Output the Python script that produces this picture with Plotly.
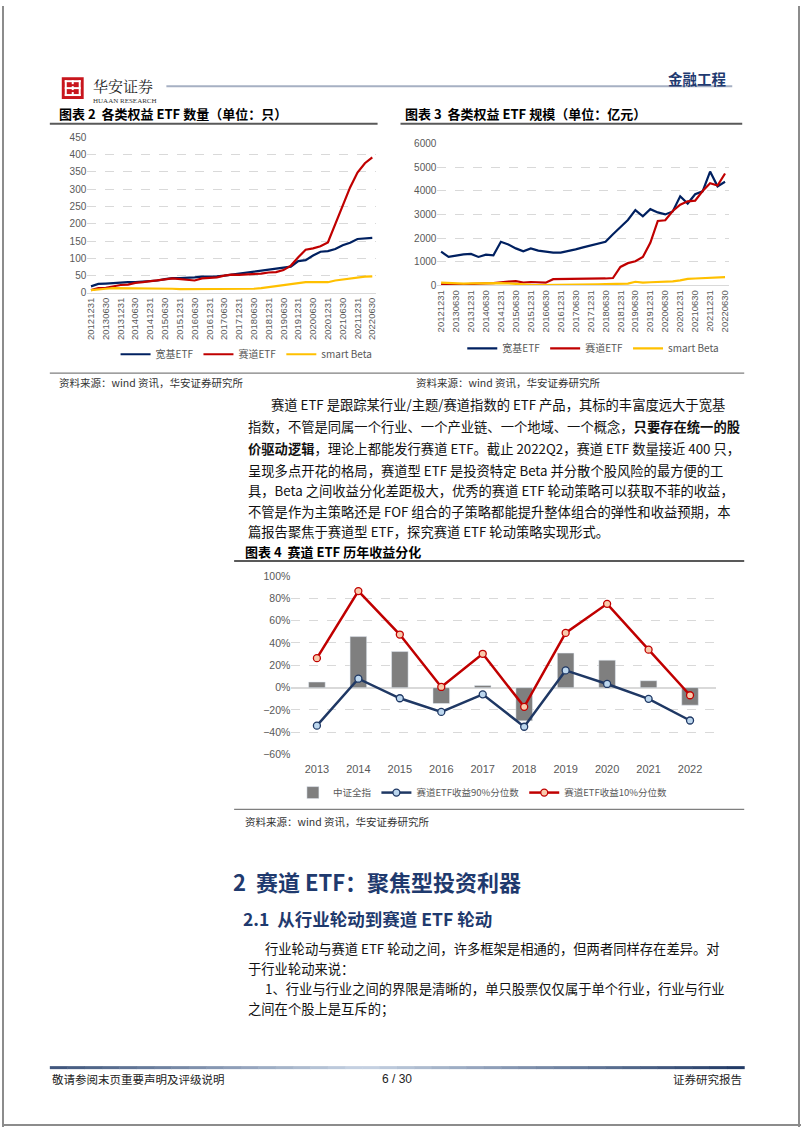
import plotly.graph_objects as go

W, H = 802, 1133

# ---- data ----
dates = ["20121231", "20130331", "20130630", "20130930", "20131231", "20140331", "20140630", "20140930",
         "20141231", "20150331", "20150630", "20150930", "20151231", "20160331", "20160630", "20160930",
         "20161231", "20170331", "20170630", "20170930", "20171231", "20180331", "20180630", "20180930",
         "20181231", "20190331", "20190630", "20190930", "20191231", "20200331", "20200630", "20200930",
         "20201231", "20210331", "20210630", "20210930", "20211231", "20220331", "20220630"]

# 图表2 数量（只）
kuanji_num = [19, 26, 27, 29, 31, 31, 31, 32, 34, 36, 40, 43, 43, 43, 45, 47, 47, 48, 50, 53,
              55, 58, 63, 66, 69, 72, 74, 76, 92, 95, 108, 119, 121, 127, 138, 145, 156, 158, 159]
saidao_num = [8, 14, 15, 20, 23, 24, 29, 31, 33, 36, 39, 42, 40, 39, 36, 42, 43, 45, 50, 53,
              52, 53, 53, 56, 59, 60, 66, 79, 103, 125, 129, 135, 146, 200, 250, 305, 348, 375, 392]
smart_num = [8, 11, 12, 14, 14, 14, 14, 14, 14, 14, 13, 12, 11, 11, 11, 11, 11, 11, 11, 11,
             11, 11, 12, 14, 17, 21, 24, 27, 30, 31, 31, 31, 31, 36, 39, 43, 45, 47, 48]

# 图表3 规模（亿元）
kuanji_aum = [1427, 1203, 1259, 1315, 1329, 1203, 1300, 1273, 1846, 1734, 1566, 1440, 1566, 1469, 1427,
              1385, 1385, 1440, 1524, 1608, 1692, 1748, 1846, 2168, 2461, 2769, 3189, 2923, 3231, 3091,
              3007, 3133, 3776, 3469, 3860, 3986, 4825, 4196, 4392]
saidao_aum = [50, 20, 30, 50, 70, 80, 80, 90, 140, 160, 180, 120, 140, 120, 110, 260, 260, 260, 270, 260,
              270, 280, 290, 310, 780, 940, 1020, 1200, 1800, 2730, 2760, 3150, 3420, 3560, 3590, 4000,
              4330, 4230, 4740]
smart_aum = [110, 90, 70, 70, 80, 90, 100, 90, 90, 80, 50, 30, 20, 10, 10, 10, 20, 20, 20, 30,
             40, 40, 50, 60, 60, 70, 150, 110, 130, 140, 160, 170, 210, 270, 290, 300, 320, 330, 350]

# 图表4 历年收益（%）
years = ["2013", "2014", "2015", "2016", "2017", "2018", "2019", "2020", "2021", "2022"]
csi_all = [5.0, 45.7, 32.3, -14.2, 2.0, -29.7, 30.9, 24.6, 6.2, -15.7]
q90 = [-34.0, 8.0, -9.5, -21.7, -6.0, -35.0, 15.4, 3.3, -10.0, -29.4]
q10 = [26.4, 86.4, 47.5, 0.6, 30.3, -17.2, 49.0, 75.0, 34.0, -6.8]

NAVY, RED, GOLD = "#002060", "#C00000", "#FFC000"
GRID, TICK = "#D9D9D9", "#595959"
CJK = "Noto Sans CJK SC"


def px(x):
    return x / W


def py(y):
    return 1 - y / H


fig = go.Figure()

# --- 图表2 ---
for name, ys, col in [("宽基ETF", kuanji_num, NAVY), ("赛道ETF", saidao_num, RED), ("smart Beta", smart_num, GOLD)]:
    fig.add_trace(go.Scatter(x=dates, y=ys, mode="lines", name=name, line=dict(color=col, width=2.2),
                             xaxis="x", yaxis="y", legend="legend"))

# --- 图表3 ---
for name, ys, col in [("宽基ETF", kuanji_aum, NAVY), ("赛道ETF", saidao_aum, RED), ("smart Beta", smart_aum, GOLD)]:
    fig.add_trace(go.Scatter(x=dates, y=ys, mode="lines", name=name, line=dict(color=col, width=2.2),
                             xaxis="x2", yaxis="y2", legend="legend2"))

# --- 图表4 ---
fig.add_trace(go.Bar(x=years, y=csi_all, name="中证全指", marker=dict(color="#7F7F7F"),
                     xaxis="x3", yaxis="y3", legend="legend3"))
fig.add_trace(go.Scatter(x=years, y=q90, mode="lines+markers", name="赛道ETF收益90%分位数",
                         line=dict(color="#1F3864", width=2.5),
                         marker=dict(size=7, color="#BDD7EE", line=dict(color="#1F3864", width=1.3)),
                         xaxis="x3", yaxis="y3", legend="legend3"))
fig.add_trace(go.Scatter(x=years, y=q10, mode="lines+markers", name="赛道ETF收益10%分位数",
                         line=dict(color=RED, width=2.5),
                         marker=dict(size=7, color="#F8CBAD", line=dict(color=RED, width=1.3)),
                         xaxis="x3", yaxis="y3", legend="legend3"))

tickfont = dict(family="Liberation Sans", size=10, color=TICK)
ydef = dict(showgrid=True, gridcolor=GRID, griddash="dash", gridwidth=1, zeroline=False,
            tickfont=tickfont, ticks="", showline=False, fixedrange=True)
xdate = dict(type="category", tickmode="array", tickvals=dates[::2], tickangle=-90,
             tickfont=dict(family="Liberation Sans", size=9.5, color=TICK), showgrid=False,
             showline=True, linecolor=GRID, linewidth=1, ticks="", range=[-0.5, 38.5])

fig.update_layout(
    width=W, height=H, margin=dict(l=0, r=0, t=0, b=0),
    paper_bgcolor="white", plot_bgcolor="white",
    font=dict(family=CJK, color="#000"),
    bargap=0.6,
    xaxis=dict(xdate, domain=[px(85.6), px(375.4)], anchor="y"),
    yaxis=dict(ydef, domain=[py(290), py(132.7)], range=[0, 450], dtick=50, anchor="x"),
    xaxis2=dict(xdate, domain=[px(437), px(729.5)], anchor="y2"),
    yaxis2=dict(ydef, domain=[py(282.3), py(139.3)], range=[0, 6000], dtick=1000, anchor="x2"),
    xaxis3=dict(type="category", domain=[px(290.4), px(716.3)], anchor="y3", showgrid=False,
                showline=False, ticks="", ticklabelstandoff=6,
                tickfont=dict(family="Liberation Sans", size=11, color=TICK)),
    yaxis3=dict(ydef, domain=[py(756.7), py(576)], range=[-60, 100], dtick=20, ticksuffix="%",
                anchor="x3", zeroline=True, zerolinecolor=GRID, zerolinewidth=1.5,
                tickfont=dict(family="Liberation Sans", size=10.5, color=TICK)),
    legend=dict(orientation="h", x=px(114), y=py(352), xanchor="left", yanchor="middle",
                font=dict(family=CJK, size=10, color=TICK), itemwidth=30, bgcolor="rgba(0,0,0,0)"),
    legend2=dict(orientation="h", x=px(462), y=py(346), xanchor="left", yanchor="middle",
                 font=dict(family=CJK, size=10, color=TICK), itemwidth=30, bgcolor="rgba(0,0,0,0)"),
    legend3=dict(orientation="h", x=px(292), y=py(795), xanchor="left", yanchor="middle",
                 font=dict(family=CJK, size=9.5, color=TICK), itemwidth=30, bgcolor="rgba(0,0,0,0)"),
)

shapes = []


def hline(x0, x1, y, color, width):
    shapes.append(dict(type="line", xref="paper", yref="paper", x0=px(x0), x1=px(x1), y0=py(y), y1=py(y),
                       line=dict(color=color, width=width)))


def box(x0, y0, x1, y1, fill):
    shapes.append(dict(type="rect", xref="paper", yref="paper", x0=px(x0), x1=px(x1), y0=py(y1), y1=py(y0),
                       fillcolor=fill, line=dict(width=0)))


# page border
shapes.append(dict(type="line", xref="paper", yref="paper", x0=px(1), x1=px(1), y0=0, y1=1,
                   line=dict(color="#8C8C8C", width=2)))
shapes.append(dict(type="line", xref="paper", yref="paper", x0=px(800), x1=px(800), y0=0, y1=1,
                   line=dict(color="#8C8C8C", width=2)))
hline(0, 802, 1131, "#8C8C8C", 2)

# header logo
box(60, 72, 82, 94, "#C8161D")
for yy in (76, 83, 90):
    box(63, yy - 1, 79, yy + 1, "white")
for xx in (64, 71, 78):
    box(xx - 1, 75, xx + 1, 91, "white")
box(66, 79, 76, 81, "#C8161D")
box(66, 85, 76, 87, "#C8161D")
hline(165, 733, 81, "#A6B0C3", 2)

# figure title rules and source rules
hline(48, 377, 119, "#595959", 2)
hline(400, 743, 119, "#595959", 2)
hline(48, 745, 371, "#7F7F7F", 1.2)
hline(233, 745, 561, "#595959", 2)
hline(233, 745, 812, "#7F7F7F", 1.2)

# footer gradient rule
n = 40
for i in range(n):
    t = min(abs((i + 0.5) / n - 0.45) / 0.55, 1.0)
    c0, c1 = (200, 212, 228), (31, 56, 100)
    col = "rgb(%d,%d,%d)" % tuple(int(a + (b - a) * t) for a, b in zip(c0, c1))
    x0 = 48 + (745 - 48) * i / n
    x1 = 48 + (745 - 48) * (i + 1) / n
    hline(x0, x1 + 0.5, 1073, col, 3)

fig.update_layout(shapes=shapes)

ann = []


def text(x, y, s, size, color="#000", anchor="left", family=CJK):
    ann.append(dict(x=px(x), y=py(y), xref="paper", yref="paper", text=s, showarrow=False,
                    xanchor=anchor, yanchor="middle", font=dict(family=family, size=size, color=color)))


text(89, 80, "华安证券", 15, "#222", family="Noto Serif CJK SC, Noto Sans CJK SC")
text(89, 96, "HUAAN RESEARCH", 7, "#333", family="Liberation Serif")
text(730, 73, "<b>金融工程</b>", 14.5, "#1F3A70", anchor="right")

text(55, 109, "<b>图表 2  各类权益 ETF 数量（单位：只）</b>", 13)
text(403, 109, "<b>图表 3  各类权益 ETF 规模（单位：亿元）</b>", 13)

text(55, 381, "资料来源：wind 资讯，华安证券研究所", 10.5, "#333")
text(414, 381, "资料来源：wind 资讯，华安证券研究所", 10.5, "#333")

body = [
    (268, 403, "赛道 ETF 是跟踪某行业/主题/赛道指数的 ETF 产品，其标的丰富度远大于宽基"),
    (245, 425, "指数，不管是同属一个行业、一个产业链、一个地域、一个概念，<b>只要存在统一的股</b>"),
    (245, 447, "<b>价驱动逻辑</b>，理论上都能发行赛道 ETF。截止 2022Q2，赛道 ETF 数量接近 400 只，"),
    (245, 469, "呈现多点开花的格局，赛道型 ETF 是投资特定 Beta 并分散个股风险的最方便的工"),
    (245, 490, "具，Beta 之间收益分化差距极大，优秀的赛道 ETF 轮动策略可以获取不菲的收益，"),
    (245, 511, "不管是作为主策略还是 FOF 组合的子策略都能提升整体组合的弹性和收益预期，本"),
    (245, 531, "篇报告聚焦于赛道型 ETF，探究赛道 ETF 轮动策略实现形式。"),
]
for x, y, s in body:
    text(x, y, s, 13.3, "#111")

text(242, 551, "<b>图表 4  赛道 ETF 历年收益分化</b>", 13)
text(242, 824, "资料来源：wind 资讯，华安证券研究所", 10.5, "#333")

text(230, 884, "<b>2  赛道 ETF：聚焦型投资利器</b>", 22, "#1F3A6E")
text(240, 922, "<b>2.1  从行业轮动到赛道 ETF 轮动</b>", 17.5, "#1F3A6E")
text(262, 953, "行业轮动与赛道 ETF 轮动之间，许多框架是相通的，但两者同样存在差异。对", 13.3, "#111")
text(245, 973, "于行业轮动来说：", 13.3, "#111")
text(262, 993, "1、行业与行业之间的界限是清晰的，单只股票仅仅属于单个行业，行业与行业", 13.3, "#111")
text(245, 1013, "之间在个股上是互斥的；", 13.3, "#111")

text(48, 1084, "敬请参阅末页重要声明及评级说明", 11.5, "#222")
text(396, 1084, "6 / 30", 12, "#222", anchor="center", family="Liberation Sans")
text(745, 1084, "证券研究报告", 11.5, "#222", anchor="right")

fig.update_layout(annotations=ann)

fig.write_html("out.html", config={"displayModeBar": False},
               post_script="document.body.style.margin='0';")
